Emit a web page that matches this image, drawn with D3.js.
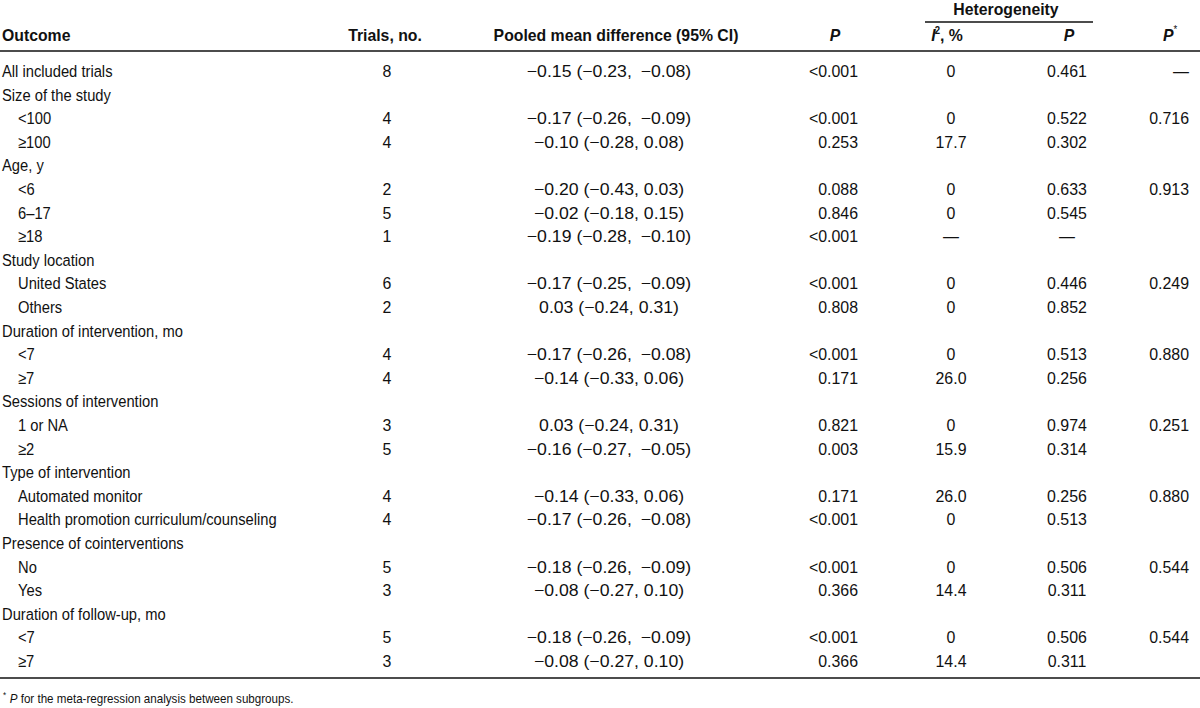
<!DOCTYPE html>
<html><head><meta charset="utf-8">
<script src="https://cdn.jsdelivr.net/npm/d3@7"></script>
<style>
html,body{margin:0;padding:0;background:#fff;}
svg{display:block;}
text{font-family:"Liberation Sans",Arial,sans-serif;fill:#111;white-space:pre;}
</style></head>
<body>
<svg id="chart" width="1200" height="708"></svg>
<script>
const outcomes = ["All included trials","Size of the study","<100","≥100","Age, y","<6","6–17","≥18","Study location","United States","Others","Duration of intervention, mo","<7","≥7","Sessions of intervention","1 or NA","≥2","Type of intervention","Automated monitor","Health promotion curriculum/counseling","Presence of cointerventions","No","Yes","Duration of follow-up, mo","<7","≥7"];
const indentLevel = [0,0,1,1,0,1,1,1,0,1,1,0,1,1,0,1,1,0,1,1,0,1,1,0,1,1];
const trials = ["8","","4","4","","2","5","1","","6","2","","4","4","","3","5","","4","4","","5","3","","5","3"];
const meanDiff = ["−0.15 (−0.23, −0.08)","","−0.17 (−0.26, −0.09)","−0.10 (−0.28, 0.08)","","−0.20 (−0.43, 0.03)","−0.02 (−0.18, 0.15)","−0.19 (−0.28, −0.10)","","−0.17 (−0.25, −0.09)","0.03 (−0.24, 0.31)","","−0.17 (−0.26, −0.08)","−0.14 (−0.33, 0.06)","","0.03 (−0.24, 0.31)","−0.16 (−0.27, −0.05)","","−0.14 (−0.33, 0.06)","−0.17 (−0.26, −0.08)","","−0.18 (−0.26, −0.09)","−0.08 (−0.27, 0.10)","","−0.18 (−0.26, −0.09)","−0.08 (−0.27, 0.10)"];
const pValues = ["<0.001","","<0.001","0.253","","0.088","0.846","<0.001","","<0.001","0.808","","<0.001","0.171","","0.821","0.003","","0.171","<0.001","","<0.001","0.366","","<0.001","0.366"];
const i2Values = ["0","","0","17.7","","0","0","—","","0","0","","0","26.0","","0","15.9","","26.0","0","","0","14.4","","0","14.4"];
const hetP = ["0.461","","0.522","0.302","","0.633","0.545","—","","0.446","0.852","","0.513","0.256","","0.974","0.314","","0.256","0.513","","0.506","0.311","","0.506","0.311"];
const pStar = ["—","","0.716","","","0.913","","","","0.249","","","0.880","","","0.251","","","0.880","","","0.544","","","0.544",""];
const footnote = "for the meta-regression analysis between subgroups.";

const svg = d3.select("#chart");
const FS = 16.5;

function measure(str, size, weight) {
  const t = svg.append("text").style("font-size", size+"px").attr("font-weight", weight).text(str);
  const w = t.node().getComputedTextLength();
  t.remove();
  return w;
}
const sxReg = 182 / measure("Presence of cointerventions", FS, "normal");
const sxBold = 245 / measure("Pooled mean difference (95% CI)", FS, "bold");
const sxNum = sxReg * 1.08;
const sxMD = 140 / measure("0.03 (−0.24, 0.31)", FS, "normal");

function txt(parent, x, yy, anchor, bold, size, sx) {
  return parent.append("text")
    .attr("transform", `translate(${x},${yy}) scale(${sx},1)`)
    .attr("text-anchor", anchor)
    .attr("font-weight", bold ? "bold" : "normal")
    .style("font-size", size + "px");
}

// header
const H = 41;
txt(svg, 2, H, "start", true, FS, sxBold).text("Outcome");
txt(svg, 385, H, "middle", true, FS, sxBold).text("Trials, no.");
txt(svg, 616, H, "middle", true, FS, sxBold).text("Pooled mean difference (95% CI)");
txt(svg, 835, H, "middle", true, FS, sxBold).attr("font-style","italic").text("P");
const i2 = txt(svg, 947, H, "middle", true, FS, sxBold);
i2.append("tspan").attr("font-style","italic").text("I");
i2.append("tspan").attr("dy",-7).attr("dx",-1).style("font-size","10px").text("2");
i2.append("tspan").attr("dy",7).text(", %");
txt(svg, 1069, H, "middle", true, FS, sxBold).attr("font-style","italic").text("P");
const ps = txt(svg, 1163, H, "start", true, FS, sxBold);
ps.append("tspan").attr("font-style","italic").text("P");
ps.append("tspan").attr("dy",-8).style("font-size","10px").attr("font-weight","normal").text("*");
txt(svg, 1006, 15, "middle", true, FS, sxBold).text("Heterogeneity");
svg.append("line").attr("x1",925).attr("x2",1093).attr("y1",22).attr("y2",22).attr("stroke","#111").attr("stroke-width",1.3);
svg.append("line").attr("x1",0).attr("x2",1200).attr("y1",51).attr("y2",51).attr("stroke","#111").attr("stroke-width",1.5);
svg.append("line").attr("x1",0).attr("x2",1200).attr("y1",678).attr("y2",678).attr("stroke","#111").attr("stroke-width",1.5);

const y = d3.scalePoint().domain(d3.range(outcomes.length)).range([77, 667]);

const rows = svg.selectAll("g.row").data(d3.range(outcomes.length)).join("g").attr("class","row")
  .attr("transform", i => `translate(0,${y(i)})`);
rows.each(function(i) {
  const g = d3.select(this);
  txt(g, indentLevel[i] ? 18 : 2, 0, "start", false, FS, sxReg).text(outcomes[i]);
  txt(g, 387, 0, "middle", false, FS, sxNum).text(trials[i]);
  // slightly wider gap before a negative upper bound, as typeset in the source
  txt(g, 609, 0, "middle", false, FS, sxMD).text(meanDiff[i].replace(", −", ",\u2002−"));
  txt(g, 858, 0, "end", false, FS, sxNum).text(pValues[i]);
  txt(g, 951, 0, "middle", false, FS, sxNum).text(i2Values[i]);
  txt(g, 1067, 0, "middle", false, FS, sxNum).text(hetP[i]);
  txt(g, 1189, 0, "end", false, FS, sxNum).text(pStar[i]);
});

const fn = txt(svg, 3, 703, "start", false, 13, sxReg);
fn.append("tspan").attr("dy",-5).style("font-size","9px").text("*");
fn.append("tspan").attr("dy",5).attr("dx",4).attr("font-style","italic").text("P");
fn.append("tspan").text(" " + footnote);
</script>
</body></html>
